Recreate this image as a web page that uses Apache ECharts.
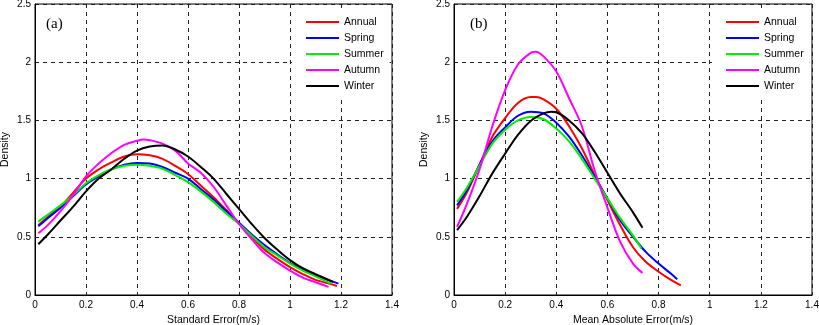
<!DOCTYPE html>
<html><head><meta charset="utf-8">
<script src="https://cdn.jsdelivr.net/npm/echarts@6/dist/echarts.min.js"></script>
<style>html,body{margin:0;padding:0;background:#fff}#c{width:819px;height:325px}</style>
</head><body><div id="c"></div>
<script>
var seriesNames = ['Annual','Spring','Summer','Autumn','Winter'];
var seriesColors = ['#ff0000','#0000ff','#00ee00','#ff00ff','#000000'];
var xTicks = [0,0.2,0.4,0.6,0.8,1,1.2,1.4];
var yTicks = [0,0.5,1,1.5,2,2.5];

// Panel (a): Standard Error
var seAnnual = [[0.013,0.60],[0.05,0.67],[0.1,0.76],[0.15,0.88],[0.2,1.0],[0.25,1.08],[0.3,1.14],[0.35,1.19],[0.4,1.21],[0.45,1.20],[0.5,1.17],[0.55,1.11],[0.6,1.04],[0.65,0.94],[0.7,0.84],[0.75,0.73],[0.8,0.62],[0.85,0.50],[0.9,0.39],[0.95,0.31],[1.0,0.24],[1.05,0.18],[1.1,0.13],[1.15,0.10],[1.184,0.078]];
var seSpring = [[0.013,0.59],[0.05,0.66],[0.1,0.75],[0.15,0.85],[0.2,0.95],[0.25,1.02],[0.3,1.08],[0.35,1.12],[0.4,1.135],[0.45,1.13],[0.5,1.10],[0.55,1.05],[0.6,1.0],[0.65,0.91],[0.7,0.82],[0.75,0.72],[0.8,0.62],[0.85,0.52],[0.9,0.43],[0.95,0.35],[1.0,0.275],[1.05,0.22],[1.1,0.17],[1.15,0.13],[1.19,0.098]];
var seSummer = [[0.013,0.63],[0.05,0.69],[0.1,0.77],[0.15,0.86],[0.2,0.96],[0.25,1.03],[0.3,1.08],[0.35,1.11],[0.4,1.12],[0.45,1.11],[0.5,1.085],[0.55,1.03],[0.6,0.97],[0.65,0.89],[0.7,0.80],[0.75,0.70],[0.8,0.61],[0.85,0.51],[0.9,0.41],[0.95,0.34],[1.0,0.27],[1.05,0.21],[1.1,0.16],[1.16,0.10]];
var seAutumn = [[0.013,0.53],[0.05,0.60],[0.1,0.72],[0.15,0.86],[0.2,1.02],[0.25,1.13],[0.3,1.22],[0.35,1.29],[0.4,1.325],[0.425,1.335],[0.45,1.33],[0.5,1.30],[0.55,1.24],[0.6,1.13],[0.65,1.05],[0.7,0.93],[0.75,0.77],[0.8,0.61],[0.85,0.48],[0.9,0.36],[0.95,0.28],[1.0,0.21],[1.05,0.15],[1.1,0.11],[1.151,0.07]];
var seWinter = [[0.013,0.436],[0.05,0.52],[0.1,0.64],[0.15,0.76],[0.2,0.89],[0.25,1.0],[0.3,1.08],[0.35,1.17],[0.4,1.24],[0.45,1.275],[0.5,1.285],[0.55,1.25],[0.6,1.19],[0.65,1.10],[0.7,1.0],[0.75,0.87],[0.8,0.74],[0.85,0.61],[0.9,0.49],[0.95,0.39],[1.0,0.30],[1.05,0.23],[1.1,0.18],[1.17,0.11]];

// Panel (b): Mean Absolute Error
var maeAnnual = [[0.012,0.74],[0.05,0.88],[0.1,1.12],[0.15,1.36],[0.2,1.52],[0.25,1.65],[0.3,1.70],[0.32,1.70],[0.35,1.68],[0.4,1.60],[0.45,1.45],[0.5,1.26],[0.55,1.03],[0.6,0.815],[0.65,0.60],[0.7,0.41],[0.75,0.285],[0.8,0.20],[0.85,0.127],[0.887,0.083]];
var maeSpring = [[0.012,0.77],[0.05,0.90],[0.1,1.12],[0.15,1.32],[0.2,1.44],[0.25,1.54],[0.3,1.575],[0.35,1.56],[0.4,1.48],[0.45,1.36],[0.5,1.20],[0.55,1.015],[0.6,0.83],[0.65,0.64],[0.7,0.50],[0.75,0.37],[0.8,0.27],[0.85,0.18],[0.873,0.135]];
var maeSummer = [[0.012,0.80],[0.05,0.92],[0.1,1.11],[0.15,1.30],[0.2,1.42],[0.25,1.50],[0.3,1.53],[0.35,1.51],[0.4,1.43],[0.45,1.32],[0.5,1.17],[0.55,1.0],[0.6,0.83],[0.65,0.66],[0.7,0.51],[0.733,0.40]];
var maeAutumn = [[0.012,0.585],[0.05,0.78],[0.1,1.08],[0.15,1.45],[0.2,1.76],[0.25,1.98],[0.3,2.08],[0.32,2.09],[0.35,2.05],[0.4,1.92],[0.45,1.69],[0.5,1.45],[0.55,1.07],[0.6,0.75],[0.65,0.456],[0.7,0.27],[0.737,0.19]];
var maeWinter = [[0.012,0.557],[0.05,0.67],[0.1,0.85],[0.15,1.045],[0.2,1.215],[0.25,1.375],[0.3,1.495],[0.35,1.56],[0.38,1.575],[0.4,1.57],[0.45,1.50],[0.5,1.39],[0.55,1.23],[0.6,1.05],[0.65,0.87],[0.7,0.71],[0.737,0.577]];

var panelA = [seAnnual, seSpring, seSummer, seAutumn, seWinter];
var panelB = [maeAnnual, maeSpring, maeSummer, maeAutumn, maeWinter];

var font = '"Liberation Sans", Arial, sans-serif';
function xAxisCfg(idx, name) {
  return {
    type: 'value', gridIndex: idx, min: 0, max: 1.4, interval: 0.2,
    name: name, nameLocation: 'middle', nameGap: 18,
    nameTextStyle: {fontFamily: font, fontSize: 10.5, color: '#000'},
    axisLine: {show: true, onZero: false, lineStyle: {color: '#000', width: 1}},
    axisTick: {show: false},
    axisLabel: {fontFamily: font, fontSize: 10, color: '#000', margin: 5,
      formatter: function(v){ var r = Math.round(v*10)/10; return xTicks.indexOf(r) >= 0 ? String(r) : ''; }},
    splitLine: {show: true, lineStyle: {color: '#222', type: [4,4], width: 1}}
  };
}
function yAxisCfg(idx) {
  return {
    type: 'value', gridIndex: idx, min: 0, max: 2.5, interval: 0.5,
    name: 'Density', nameLocation: 'middle', nameGap: 24, nameRotate: 90,
    nameTextStyle: {fontFamily: font, fontSize: 10.5, color: '#000'},
    axisLine: {show: true, lineStyle: {color: '#000', width: 1}},
    axisTick: {show: false},
    axisLabel: {fontFamily: font, fontSize: 10, color: '#000', margin: 4,
      formatter: function(v){ return yTicks.indexOf(v) >= 0 ? String(v) : ''; }},
    splitLine: {show: true, lineStyle: {color: '#222', type: [4,4], width: 1}}
  };
}
var series = [];
[panelA, panelB].forEach(function(panel, gi){
  panel.forEach(function(d, i){
    series.push({
      type: 'line', name: seriesNames[i], xAxisIndex: gi, yAxisIndex: gi,
      data: d, smooth: 0.35, symbol: 'none', showSymbol: false,
      lineStyle: {color: seriesColors[i], width: 2},
      itemStyle: {color: seriesColors[i]}, z: 3
    });
  });
});
function legendCfg(left) {
  return {
    orient: 'vertical', left: left, top: 9, data: seriesNames,
    padding: [7, 6, 6, 14],
    icon: 'rect', itemWidth: 33, itemHeight: 2, itemGap: 4,
    textStyle: {fontFamily: font, fontSize: 10.5, color: '#000', lineHeight: 12},
    selectedMode: false, backgroundColor: '#fff'
  };
}
var chart = echarts.init(document.getElementById('c'), null, {renderer: 'canvas'});
chart.setOption({
  animation: false,
  backgroundColor: '#fff',
  grid: [
    {left: 35, right: 427, top: 4, bottom: 30, containLabel: false, outerBoundsMode: 'none', show: true, borderColor: '#000', borderWidth: 1, backgroundColor: 'transparent'},
    {left: 454, right: 7, top: 4, bottom: 30, containLabel: false, outerBoundsMode: 'none', show: true, borderColor: '#000', borderWidth: 1, backgroundColor: 'transparent'}
  ],
  xAxis: [xAxisCfg(0, 'Standard Error(m/s)'), xAxisCfg(1, 'Mean Absolute Error(m/s)')],
  yAxis: [yAxisCfg(0), yAxisCfg(1)],
  legend: [legendCfg(292), legendCfg(712)],
  series: series,
  graphic: [
    {type: 'text', left: 46, top: 17, style: {text: '(a)', font: '15px "Liberation Serif", "Times New Roman", serif', fill: '#000'}},
    {type: 'text', left: 470, top: 17, style: {text: '(b)', font: '15px "Liberation Serif", "Times New Roman", serif', fill: '#000'}}
  ]
});
</script></body></html>
